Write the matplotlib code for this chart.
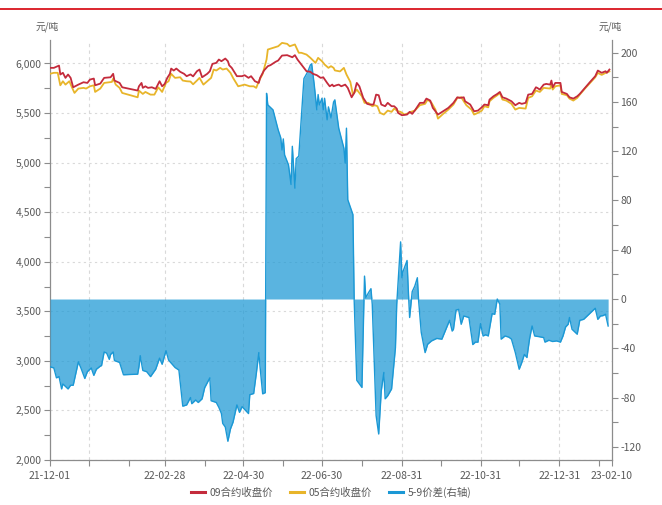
import matplotlib
matplotlib.use('Agg')
import matplotlib.pyplot as plt
import matplotlib.ticker as mticker
from matplotlib.lines import Line2D
import pandas as pd

plt.rcParams['font.family'] = ['Noto Sans CJK SC', 'DejaVu Sans']

# ---------------- data ----------------
c09_dates = ['2021-12-01','2021-12-04','2021-12-08','2021-12-09','2021-12-11','2021-12-13','2021-12-15','2021-12-17',
    '2021-12-19','2021-12-23','2021-12-27','2021-12-30','2022-01-01','2022-01-04','2022-01-05','2022-01-09','2022-01-12',
    '2022-01-17','2022-01-19','2022-01-20','2022-01-24','2022-01-26','2022-02-07','2022-02-08','2022-02-10','2022-02-11',
    '2022-02-13','2022-02-15','2022-02-18','2022-02-21','2022-02-24','2022-02-26','2022-02-28','2022-03-02','2022-03-04',
    '2022-03-05','2022-03-07','2022-03-09','2022-03-12','2022-03-15','2022-03-17','2022-03-20','2022-03-22','2022-03-25',
    '2022-03-27','2022-03-29','2022-04-02','2022-04-04','2022-04-06','2022-04-09','2022-04-11','2022-04-13','2022-04-16',
    '2022-04-18','2022-04-19','2022-04-21','2022-04-25','2022-04-29','2022-05-01','2022-05-04','2022-05-06','2022-05-09',
    '2022-05-12','2022-05-13','2022-05-16','2022-05-19','2022-05-21','2022-05-25','2022-05-27','2022-05-30','2022-06-03',
    '2022-06-07','2022-06-09','2022-06-11','2022-06-13','2022-06-16','2022-06-18','2022-06-21','2022-06-23','2022-06-26',
    '2022-06-29','2022-07-01','2022-07-04','2022-07-06','2022-07-08','2022-07-09','2022-07-11','2022-07-13','2022-07-15',
    '2022-07-18','2022-07-20','2022-07-23','2022-07-25','2022-07-27','2022-07-29','2022-08-01','2022-08-04','2022-08-06',
    '2022-08-09','2022-08-11','2022-08-13','2022-08-15','2022-08-18','2022-08-20','2022-08-23','2022-08-25','2022-08-27',
    '2022-08-28','2022-08-31','2022-09-04','2022-09-06','2022-09-08','2022-09-10','2022-09-14','2022-09-17','2022-09-19',
    '2022-09-22','2022-09-24','2022-09-28','2022-10-02','2022-10-06','2022-10-10','2022-10-13','2022-10-15','2022-10-18',
    '2022-10-19','2022-10-23','2022-10-26','2022-10-29','2022-11-01','2022-11-03','2022-11-06','2022-11-07','2022-11-10',
    '2022-11-13','2022-11-15','2022-11-17','2022-11-20','2022-11-24','2022-11-27','2022-11-30','2022-12-02','2022-12-05',
    '2022-12-07','2022-12-10','2022-12-13','2022-12-14','2022-12-16','2022-12-19','2022-12-21','2022-12-24','2022-12-25',
    '2022-12-26','2022-12-28','2023-01-01','2023-01-02','2023-01-06','2023-01-08','2023-01-11','2023-01-14','2023-01-16',
    '2023-01-20','2023-01-24','2023-01-28','2023-01-30','2023-02-02','2023-02-05','2023-02-06','2023-02-08']
c09_close = [5956,5956,5979,5889,5906,5855,5889,5855,
    5760,5787,5811,5804,5838,5848,5780,5797,5855,
    5861,5896,5828,5804,5760,5727,5770,5804,5754,
    5770,5754,5760,5744,5821,5770,5794,5855,5896,
    5949,5929,5949,5916,5896,5872,5890,5870,5922,
    5939,5861,5896,5922,5996,6006,6040,6023,6050,
    6023,5982,5956,5872,5872,5882,5855,5872,5821,
    5804,5855,5929,5973,5983,6017,6030,6080,6084,
    6063,6084,6040,6006,5956,5922,5916,5896,5882,
    5855,5861,5804,5770,5787,5770,5780,5787,5770,
    5787,5754,5659,5703,5804,5770,5653,5593,5586,
    5586,5686,5680,5586,5569,5603,5569,5569,5545,
    5502,5478,5485,5512,5492,5525,5603,5603,5646,
    5626,5552,5485,5518,5552,5603,5659,5653,5659,
    5619,5586,5518,5525,5558,5586,5579,5636,5669,
    5693,5713,5659,5646,5619,5579,5603,5593,5603,
    5686,5693,5760,5754,5737,5787,5794,5787,5828,
    5760,5804,5804,5713,5693,5659,5646,5669,5693,
    5754,5814,5872,5929,5906,5922,5906,5939]

c05_dates = ['2021-12-01','2021-12-04','2021-12-07','2021-12-09','2021-12-11','2021-12-13','2021-12-16','2021-12-18',
    '2021-12-20','2021-12-23','2021-12-27','2021-12-29','2022-01-01','2022-01-04','2022-01-05','2022-01-09','2022-01-12',
    '2022-01-18','2022-01-19','2022-01-21','2022-01-24','2022-01-26','2022-02-07','2022-02-08','2022-02-11','2022-02-13',
    '2022-02-17','2022-02-20','2022-02-23','2022-02-26','2022-03-01','2022-03-03','2022-03-05','2022-03-08','2022-03-12',
    '2022-03-14','2022-03-17','2022-03-20','2022-03-22','2022-03-25','2022-03-27','2022-03-30','2022-04-02','2022-04-05',
    '2022-04-07','2022-04-09','2022-04-12','2022-04-14','2022-04-17','2022-04-20','2022-04-22','2022-04-26','2022-05-01',
    '2022-05-05','2022-05-08','2022-05-10','2022-05-12','2022-05-15','2022-05-18','2022-05-19','2022-05-23','2022-05-27',
    '2022-05-30','2022-06-03','2022-06-05','2022-06-09','2022-06-12','2022-06-14','2022-06-18','2022-06-21','2022-06-25',
    '2022-06-27','2022-06-30','2022-07-02','2022-07-05','2022-07-07','2022-07-09','2022-07-10','2022-07-14','2022-07-17',
    '2022-07-19','2022-07-22','2022-07-24','2022-07-27','2022-07-28','2022-07-31','2022-08-02','2022-08-05','2022-08-08',
    '2022-08-10','2022-08-12','2022-08-14','2022-08-17','2022-08-20','2022-08-23','2022-08-25','2022-08-28','2022-08-30',
    '2022-09-02','2022-09-05','2022-09-07','2022-09-10','2022-09-14','2022-09-18','2022-09-20','2022-09-23','2022-09-26',
    '2022-09-28','2022-10-02','2022-10-06','2022-10-10','2022-10-13','2022-10-16','2022-10-18','2022-10-20','2022-10-24',
    '2022-10-26','2022-10-29','2022-11-01','2022-11-03','2022-11-06','2022-11-07','2022-11-10','2022-11-13','2022-11-15',
    '2022-11-17','2022-11-20','2022-11-24','2022-11-27','2022-11-30','2022-12-05','2022-12-07','2022-12-10','2022-12-13',
    '2022-12-16','2022-12-19','2022-12-24','2022-12-25','2022-12-26','2022-12-28','2023-01-01','2023-01-02','2023-01-06',
    '2023-01-08','2023-01-11','2023-01-14','2023-01-16','2023-01-20','2023-01-24','2023-01-28','2023-01-30','2023-02-02',
    '2023-02-05','2023-02-08']
c05_close = [5896,5906,5906,5780,5821,5787,5821,5760,
    5703,5747,5754,5747,5770,5780,5713,5747,5804,
    5814,5848,5787,5754,5703,5659,5727,5693,5713,
    5686,5686,5760,5713,5804,5821,5896,5855,5861,
    5828,5821,5818,5790,5828,5855,5787,5821,5855,
    5939,5929,5956,5939,5949,5906,5855,5770,5787,
    5770,5770,5754,5821,5896,6040,6141,6158,6174,
    6208,6198,6174,6192,6108,6108,6090,6057,6006,
    6057,6023,5990,5956,5973,5956,5930,5920,5956,
    5889,5814,5686,5737,5720,5669,5603,5603,5569,
    5579,5569,5502,5485,5525,5512,5545,5518,5512,
    5485,5498,5512,5525,5579,5593,5636,5603,5535,
    5444,5492,5535,5586,5653,5659,5619,5579,5535,
    5485,5502,5525,5569,5558,5619,5653,5680,5703,
    5636,5626,5593,5535,5552,5545,5653,5669,5727,
    5713,5754,5747,5787,5737,5770,5780,5693,5680,
    5646,5626,5653,5686,5747,5804,5861,5905,5885,
    5905,5920]

spread_dates = ['2021-12-01','2021-12-04','2021-12-06','2021-12-08','2021-12-10','2021-12-11','2021-12-13','2021-12-15',
    '2021-12-17','2021-12-19','2021-12-22','2021-12-23','2021-12-25','2021-12-28','2021-12-30','2022-01-02','2022-01-04',
    '2022-01-06','2022-01-09','2022-01-10','2022-01-12','2022-01-14','2022-01-16','2022-01-17','2022-01-19','2022-01-20',
    '2022-01-24','2022-01-27','2022-02-07','2022-02-08','2022-02-09','2022-02-11','2022-02-14','2022-02-17','2022-02-21',
    '2022-02-24','2022-02-26','2022-03-01','2022-03-03','2022-03-08','2022-03-11','2022-03-14','2022-03-17','2022-03-20',
    '2022-03-21','2022-03-24','2022-03-26','2022-03-29','2022-03-31','2022-04-04','2022-04-05','2022-04-09','2022-04-11',
    '2022-04-13','2022-04-14','2022-04-16','2022-04-18','2022-04-20','2022-04-22','2022-04-25','2022-04-27','2022-04-29',
    '2022-05-04','2022-05-05','2022-05-08','2022-05-10','2022-05-12','2022-05-13','2022-05-15','2022-05-17','2022-05-18',
    '2022-05-19','2022-05-23','2022-05-27','2022-05-29','2022-05-30','2022-05-31','2022-06-01','2022-06-04','2022-06-06',
    '2022-06-07','2022-06-09','2022-06-10','2022-06-12','2022-06-14','2022-06-16','2022-06-19','2022-06-21','2022-06-22',
    '2022-06-24','2022-06-26','2022-06-27','2022-06-28','2022-06-30','2022-07-01','2022-07-02','2022-07-04','2022-07-05',
    '2022-07-07','2022-07-09','2022-07-10','2022-07-13','2022-07-17','2022-07-18','2022-07-19','2022-07-20','2022-07-24',
    '2022-07-25','2022-07-27','2022-07-31','2022-08-02','2022-08-03','2022-08-05','2022-08-07','2022-08-08','2022-08-11',
    '2022-08-13','2022-08-15','2022-08-17','2022-08-18','2022-08-20','2022-08-23','2022-08-26','2022-08-27','2022-08-30',
    '2022-08-31','2022-09-01','2022-09-04','2022-09-05','2022-09-06','2022-09-08','2022-09-10','2022-09-12','2022-09-13',
    '2022-09-15','2022-09-18','2022-09-20','2022-09-23','2022-09-27','2022-10-01','2022-10-07','2022-10-09','2022-10-10',
    '2022-10-12','2022-10-14','2022-10-16','2022-10-18','2022-10-22','2022-10-25','2022-10-27','2022-10-29','2022-10-31',
    '2022-11-02','2022-11-04','2022-11-06','2022-11-09','2022-11-11','2022-11-13','2022-11-15','2022-11-16','2022-11-19',
    '2022-11-22','2022-11-24','2022-11-27','2022-11-30','2022-12-02','2022-12-04','2022-12-06','2022-12-08','2022-12-10',
    '2022-12-12','2022-12-15','2022-12-19','2022-12-20','2022-12-23','2022-12-26','2022-12-29','2023-01-01','2023-01-03',
    '2023-01-05','2023-01-07','2023-01-08','2023-01-10','2023-01-14','2023-01-16','2023-01-19','2023-01-28','2023-01-30',
    '2023-02-01','2023-02-03','2023-02-05','2023-02-07']
spread_values = [-55,-56,-64,-63,-73,-69,-71,-73,
    -70,-70,-56,-51,-56,-64.5,-59,-56,-62,
    -57,-54.5,-54,-43,-44,-49,-45,-43,-50,
    -51.5,-61.5,-61,-55,-46,-58,-59,-63,-57,
    -48,-53,-42,-49.6,-55.6,-57.7,-87,-86,-80,
    -85,-82,-84,-81,-72,-64,-82.6,-84,-88,
    -93,-101,-104,-115.5,-105.5,-100,-86,-92,-87.4,
    -93,-77.7,-76.7,-61,-43.5,-55.6,-77,-76,167,
    157.6,153.6,137.4,131,121,130,117,109,93,
    124,90,114,116,147,179,184.6,190,191,
    174,153.6,166,157.6,163,153.6,163,145.5,156,
    147,160,161.7,138.7,122.5,110.4,138.7,80.7,68.6,
    -1.6,-66,-71.8,18.6,1,5,8.4,-4.3,-94.7,
    -109.6,-74.5,-59.6,-81,-78.5,-73,-39.4,-4.3,46.4,
    17.3,22.7,31.3,6.5,-15,6,10.5,17.3,-1.6,
    -27,-43.5,-36.7,-34,-32,-32.6,-17.3,-26,-24.6,
    -9,-8.4,-20.5,-13.8,-15,-37,-35,-35,-20,
    -30,-29,-30,-11.9,-12.4,0,-4.3,-32.6,-30,
    -31,-32.6,-43.5,-57,-51.6,-45,-47.5,-32.6,-21.9,
    -30,-30.5,-31.3,-35,-33.5,-34.5,-34,-35,-30,
    -22.7,-20.5,-15,-24.6,-28.6,-17.3,-16.5,-7.5,-16.5,
    -13.8,-13.5,-12.4,-21.9]

x_start, x_end = '2021-12-01', '2023-02-10'
x_label_dates = ['2021-12-01', '2022-02-28', '2022-04-30', '2022-06-30', '2022-08-31',
                 '2022-10-31', '2022-12-31', '2023-02-10']
x_labels = ['21-12-01', '22-02-28', '22-04-30', '22-06-30', '22-08-31', '22-10-31', '22-12-31', '23-02-10']
x_grid_dates = ['2021-12-31', '2022-02-28', '2022-04-30', '2022-06-30', '2022-08-31', '2022-10-31', '2022-12-31']
series_names = ['09合约收盘价', '05合约收盘价', '5-9价差(右轴)']
unit_label = '元/吨'

# ---------------- style ----------------
RED = '#c42b3c'
YELLOW = '#e8b52a'
BLUE = '#1b98d5'
AXIS = '#8c8c8c'
TXT = '#595959'
GRID = '#d9d9d9'
FS = 7.5

fig = plt.figure(figsize=(6.62, 5.05), dpi=100)
ax = fig.add_axes([50/662, 45/505, 562/662, 420/505])
ax2 = ax.twinx()
ax3 = ax.twinx()

d09 = pd.to_datetime(c09_dates)
d05 = pd.to_datetime(c05_dates)
dsp = pd.to_datetime(spread_dates)

# spread (right axis)
ax2.fill_between(dsp, spread_values, 0, color=BLUE, alpha=0.72, lw=0)
ax2.plot(dsp, spread_values, color=BLUE, lw=1.0)

# price lines (left scale, on top)
ax3.plot(d05, c05_close, color=YELLOW, lw=1.3)
ax3.plot(d09, c09_close, color=RED, lw=1.3)

xmin, xmax = pd.Timestamp(x_start), pd.Timestamp(x_end)
for a in (ax, ax2, ax3):
    a.set_xlim(xmin, xmax)

ax.set_ylim(2000, 6237)
ax3.set_ylim(2000, 6237)
ax2.set_ylim(-130.7, 210.3)

# x ticks: month ends + ends
month_ends = pd.date_range('2021-12-31', '2023-01-31', freq='ME')
tick_pos = [xmin] + list(month_ends) + [xmax]
lab_map = {pd.Timestamp(d): l for d, l in zip(x_label_dates, x_labels)}
tick_lab = [lab_map.get(pd.Timestamp(t), '') for t in tick_pos]
ax.set_xticks(tick_pos)
ax.set_xticklabels(tick_lab)
for g in x_grid_dates:
    ax.axvline(pd.Timestamp(g), color=GRID, lw=0.8, ls=(0, (3, 3)), zorder=0)

# left y ticks
ax.yaxis.set_major_locator(mticker.MultipleLocator(500))
ax.yaxis.set_minor_locator(mticker.MultipleLocator(250))
ax.yaxis.set_major_formatter(mticker.FuncFormatter(lambda v, p: f'{v:,.0f}'))
ax.grid(axis='y', which='major', color=GRID, lw=0.8, ls=(0, (2, 3)))
ax.grid(axis='x', visible=False)

# right y ticks
ax2.yaxis.set_major_locator(mticker.MultipleLocator(40))
ax2.yaxis.set_minor_locator(mticker.MultipleLocator(20))
ax2.yaxis.set_major_formatter(mticker.FuncFormatter(lambda v, p: f'{v:.0f}'))

for a in (ax, ax2):
    a.tick_params(axis='both', which='both', colors=AXIS, labelcolor=TXT, labelsize=FS,
                  length=4, width=0.8, direction='out', pad=2)
ax.tick_params(axis='x', pad=4)

for s in ax.spines.values():
    s.set_color(AXIS)
    s.set_linewidth(0.9)
ax.spines['top'].set_visible(False)
ax.spines['right'].set_visible(False)
for k, s in ax2.spines.items():
    s.set_visible(k == 'right')
    s.set_color(AXIS)
    s.set_linewidth(0.9)
for s in ax3.spines.values():
    s.set_visible(False)
ax3.set_yticks([])
ax3.tick_params(axis='both', which='both', length=0, labelleft=False, labelright=False,
                labelbottom=False)
ax2.tick_params(axis='x', which='both', length=0, labelbottom=False)
ax3.patch.set_visible(False)
ax2.patch.set_visible(False)

# unit labels
fig.text(47/662, 1 - 27/505, unit_label, ha='center', va='center', fontsize=7, color=TXT)
fig.text(610/662, 1 - 27/505, unit_label, ha='center', va='center', fontsize=7, color=TXT)

# top red rule
fig.add_artist(Line2D([0, 1], [1 - 9/505, 1 - 9/505], transform=fig.transFigure,
                      color='#d9141c', lw=1.3))

# legend
handles = [Line2D([], [], color=RED, lw=2.2), Line2D([], [], color=YELLOW, lw=2.2),
           Line2D([], [], color=BLUE, lw=2.2)]
fig.legend(handles, series_names, loc='center', bbox_to_anchor=(331/662, 1 - 492/505),
           ncol=3, frameon=False, fontsize=FS, labelcolor=TXT, handlelength=1.4,
           handletextpad=0.4, columnspacing=1.6)

fig.savefig('out.png', dpi=100)
